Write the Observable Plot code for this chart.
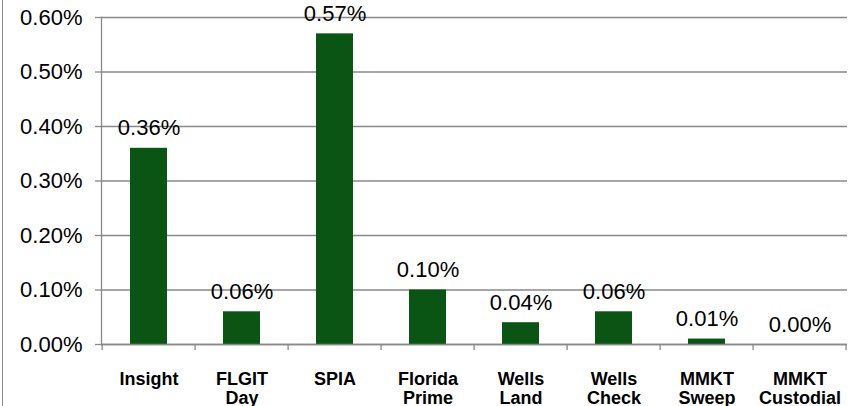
<!DOCTYPE html>
<html><head><meta charset="utf-8">
<script src="https://cdn.jsdelivr.net/npm/d3@7"></script>
<script src="https://cdn.jsdelivr.net/npm/@observablehq/plot@0.6"></script>
<style>
body{margin:0;background:#fff;}
#chart{position:relative;width:850px;height:406px;overflow:hidden;}
#chart .border{position:absolute;left:2px;top:0;width:1px;height:406px;background:#8a8a8a;}
#chart svg{display:block;}
</style></head><body><div id="chart"><div class="border"></div></div>
<script>
const categories = ["Insight","FLGIT\nDay","SPIA","Florida\nPrime","Wells\nLand","Wells\nCheck","MMKT\nSweep","MMKT\nCustodial"];
const values = [0.0036,0.0006,0.0057,0.0010,0.0004,0.0006,0.0001,0.0000];
const yTicks = [0,0.001,0.002,0.003,0.004,0.005,0.006];

const data = categories.map((c,i)=>({category:c, value:values[i]}));
const pct = d3.format(".2%");
const gray = "#898989";
const green = "#0a5514";
const padInner = 0.6, padOuter = 0.3;

function boundaryTicks(index, scales) {
  const x = scales.x, y = scales.y;
  const step = x(categories[1]) - x(categories[0]);
  const y0 = y(0);
  const g = d3.create("svg:g").attr("stroke", gray).attr("stroke-width", 1.3);
  const edges = categories.map(c => x(c) - padOuter*step);
  edges.push(x(categories[categories.length-1]) + (1-padInner)*step + padOuter*step);
  for (const e of edges) {
    g.append("line").attr("x1", e).attr("x2", e).attr("y1", y0).attr("y2", y0 + 6);
  }
  return g.node();
}

const plot = Plot.plot({
  width: 850,
  height: 406,
  marginLeft: 101,
  marginRight: 3,
  marginTop: 17,
  marginBottom: 62,
  style: {fontFamily: "'Liberation Sans', Arial, sans-serif", fontSize: "22px", color: "#000", background: "#fff"},
  x: {domain: categories, paddingInner: padInner, paddingOuter: padOuter, label: null},
  y: {domain: [0, 0.006], label: null},
  marks: [
    Plot.gridY(yTicks, {stroke: gray, strokeOpacity: 1, strokeWidth: 1.3}),
    Plot.axisY(yTicks, {tickFormat: pct, tickSize: 6, tickPadding: 13, stroke: gray, strokeWidth: 1.3, fontSize: 22, label: null}),
    Plot.frame({anchor: "left", stroke: gray, strokeWidth: 1.3}),
    Plot.barY(data, {x: "category", y: "value", fill: green}),
    Plot.ruleY([0], {stroke: gray, strokeWidth: 1.3}),
    boundaryTicks,
    Plot.axisX({tickSize: 0, tickPadding: 26, fontWeight: "bold", fontSize: 18, lineHeight: 1.1, label: null}),
    Plot.text(data, {x: "category", y: "value", text: d => pct(d.value), dy: -20, fontSize: 22, fill: "#000"})
  ]
});
document.getElementById("chart").appendChild(plot);
</script></body></html>
